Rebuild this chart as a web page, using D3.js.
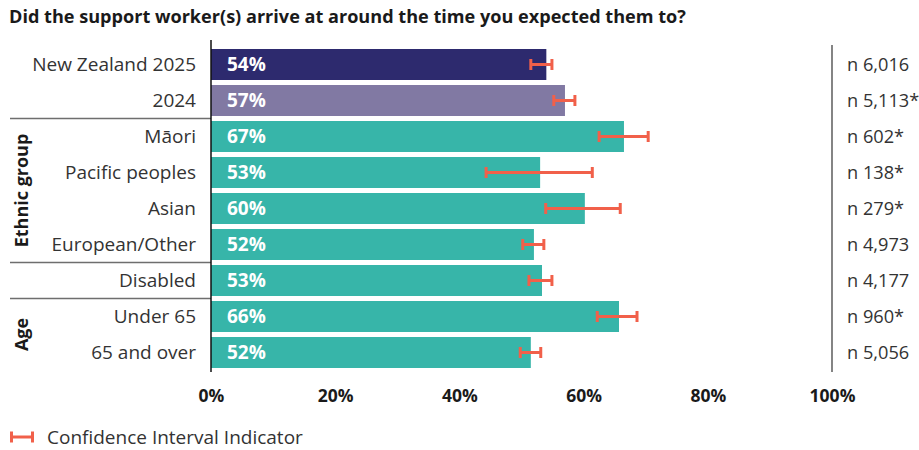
<!DOCTYPE html>
<html>
<head>
<meta charset="utf-8">
<script src="https://cdn.jsdelivr.net/npm/d3@7"></script>
<style>
  body { margin: 0; background: #fff; }
  svg text { font-family: "Open Sans", sans-serif; }
</style>
</head>
<body>
<div id="chart"></div>
<script>
var title = "Did the support worker(s) arrive at around the time you expected them to?";

var categories = ["New Zealand 2025", "2024", "Māori", "Pacific peoples", "Asian",
  "European/Other", "Disabled", "Under 65", "65 and over"];
var values = [54.0, 57.0, 66.5, 53.0, 60.2, 52.0, 53.3, 65.7, 51.5];
var labels = ["54%", "57%", "67%", "53%", "60%", "52%", "53%", "66%", "52%"];
var ciLow  = [51.5, 55.2, 62.5, 44.3, 53.9, 50.2, 51.2, 62.2, 49.8];
var ciHigh = [54.9, 58.6, 70.4, 61.4, 65.9, 53.6, 54.9, 68.6, 53.1];
var counts = ["n 6,016", "n 5,113*", "n 602*", "n 138*", "n 279*", "n 4,973", "n 4,177", "n 960*", "n 5,056"];
var barColors = ["#2d2a6e", "#8179a3", "#37b5a9", "#37b5a9", "#37b5a9", "#37b5a9", "#37b5a9", "#37b5a9", "#37b5a9"];
var groups = [
  { name: "Ethnic group", first: "Māori", last: "European/Other" },
  { name: "Age", first: "Under 65", last: "65 and over" }
];
var separatorsAfter = ["2024", "European/Other", "Disabled"];
var ticks = [0, 20, 40, 60, 80, 100];

var width = 919, height = 450;
var ciColor = "#f1604a";

var svg = d3.select("#chart").append("svg")
  .attr("width", width)
  .attr("height", height);

var x = d3.scaleLinear().domain([0, 100]).range([211, 832]);
var y = d3.scaleBand().domain(categories).range([46.5, 370.5]).paddingInner(5 / 36).paddingOuter(5 / 72);

svg.append("text")
  .attr("x", 9)
  .attr("y", 23)
  .style("font-size", "18.1px")
  .style("font-weight", "700")
  .style("fill", "#1a1a1a")
  .text(title);

var data = categories.map(function(c, i) {
  return { name: c, value: values[i], label: labels[i], lo: ciLow[i], hi: ciHigh[i], n: counts[i], color: barColors[i] };
});

// bars
svg.selectAll("rect.bar")
    .data(data)
    .enter()
  .append("rect")
    .attr("class", "bar")
    .attr("x", x(0))
    .attr("y", function(d) { return y(d.name); })
    .attr("width", function(d) { return x(d.value) - x(0); })
    .attr("height", y.bandwidth())
    .style("fill", function(d) { return d.color; });

svg.selectAll("text.value")
    .data(data)
    .enter()
  .append("text")
    .attr("class", "value")
    .attr("x", x(0) + 16)
    .attr("y", function(d) { return y(d.name) + y.bandwidth() / 2; })
    .attr("dy", "0.36em")
    .style("font-size", "19px")
    .style("font-weight", "700")
    .style("fill", "#fff")
    .text(function(d) { return d.label; });

// confidence intervals
var ci = svg.selectAll("g.ci")
    .data(data)
    .enter()
  .append("g")
    .attr("class", "ci")
    .attr("transform", function(d) { return "translate(0," + (y(d.name) + y.bandwidth() / 2) + ")"; })
    .style("stroke", ciColor)
    .style("stroke-width", "3px");

ci.append("line")
  .attr("x1", function(d) { return x(d.lo); })
  .attr("x2", function(d) { return x(d.hi); });
ci.append("line")
  .attr("x1", function(d) { return x(d.lo); })
  .attr("x2", function(d) { return x(d.lo); })
  .attr("y1", -5.5).attr("y2", 5.5);
ci.append("line")
  .attr("x1", function(d) { return x(d.hi); })
  .attr("x2", function(d) { return x(d.hi); })
  .attr("y1", -5.5).attr("y2", 5.5);

// category labels
svg.selectAll("text.cat")
    .data(data)
    .enter()
  .append("text")
    .attr("class", "cat")
    .attr("x", 196)
    .attr("y", function(d) { return y(d.name) + y.bandwidth() / 2; })
    .attr("dy", "0.36em")
    .style("text-anchor", "end")
    .style("font-size", "19px")
    .style("fill", "#333")
    .text(function(d) { return d.name; });

// n labels
svg.selectAll("text.n")
    .data(data)
    .enter()
  .append("text")
    .attr("class", "n")
    .attr("x", 847)
    .attr("y", function(d) { return y(d.name) + y.bandwidth() / 2; })
    .attr("dy", "0.36em")
    .style("font-size", "18.2px")
    .style("fill", "#333")
    .text(function(d) { return d.n; });

// separators
var step = y.step();
svg.selectAll("line.sep")
    .data(separatorsAfter)
    .enter()
  .append("line")
    .attr("class", "sep")
    .attr("x1", 10)
    .attr("x2", x(0))
    .attr("y1", function(d) { return y(d) + y.bandwidth() + (step - y.bandwidth()) / 2; })
    .attr("y2", function(d) { return y(d) + y.bandwidth() + (step - y.bandwidth()) / 2; })
    .style("stroke", "#6e6e6e")
    .style("stroke-width", "1.5px");

// group labels
svg.selectAll("text.group")
    .data(groups)
    .enter()
  .append("text")
    .attr("class", "group")
    .attr("transform", function(d) {
      var cy = (y(d.first) + y(d.last) + y.bandwidth()) / 2;
      return "translate(28," + cy + ") rotate(-90)";
    })
    .style("text-anchor", "middle")
    .style("font-size", "18px")
    .style("font-weight", "700")
    .style("fill", "#1a1a1a")
    .text(function(d) { return d.name; });

// vertical lines
svg.append("line")
  .attr("x1", x(0)).attr("x2", x(0))
  .attr("y1", 40).attr("y2", 372)
  .style("stroke", "#111").style("stroke-width", "1.5px");
svg.append("line")
  .attr("x1", x(100)).attr("x2", x(100))
  .attr("y1", 45).attr("y2", 372)
  .style("stroke", "#333").style("stroke-width", "1.2px");

// x axis
var axis = svg.append("g")
  .attr("transform", "translate(0,382)")
  .call(d3.axisBottom(x).tickValues(ticks).tickSize(0).tickPadding(8).tickFormat(function(d) { return d + "%"; }));
axis.select(".domain").remove();
axis.selectAll("text")
  .style("font-family", "'Open Sans', sans-serif")
  .style("font-size", "17.5px")
  .style("font-weight", "700")
  .style("fill", "#1a1a1a");

// legend
var legend = svg.append("g")
  .attr("transform", "translate(10,437)")
  .style("stroke", ciColor)
  .style("stroke-width", "3px");
legend.append("line").attr("x1", 1.5).attr("x2", 22.5);
legend.append("line").attr("x1", 1.5).attr("x2", 1.5).attr("y1", -5.5).attr("y2", 5.5);
legend.append("line").attr("x1", 22.5).attr("x2", 22.5).attr("y1", -5.5).attr("y2", 5.5);

svg.append("text")
  .attr("x", 47)
  .attr("y", 437)
  .attr("dy", "0.36em")
  .style("font-size", "19px")
  .style("fill", "#333")
  .text("Confidence Interval Indicator");
</script>
</body>
</html>
